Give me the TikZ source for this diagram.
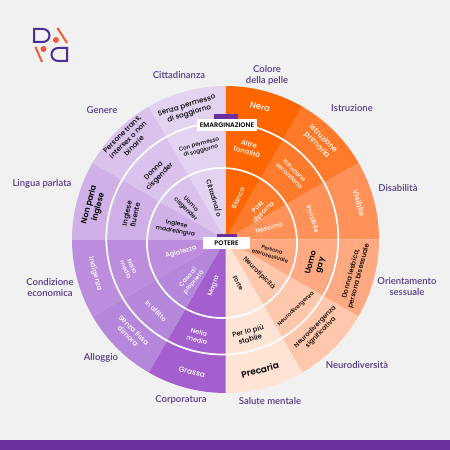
\documentclass[tikz,border=0pt]{standalone}
\usepackage{fontspec}
\setmainfont{Poppins}[UprightFont={* Medium},BoldFont={* SemiBold}]
\newfontfamily\outerfont{Lato}[BoldFont={* Semibold}]
\definecolor{bg}{HTML}{F1F1F1}
\definecolor{labelc}{HTML}{553A8A}
\definecolor{barc}{HTML}{6B2F9E}
\definecolor{logop}{HTML}{4A2F94}
\definecolor{logoo}{HTML}{F4583A}
\definecolor{r1}{HTML}{FF6600}
\definecolor{r2}{HTML}{FF7A2B}
\definecolor{r3}{HTML}{FF9159}
\definecolor{r4}{HTML}{FFA982}
\definecolor{r5}{HTML}{FFC7AC}
\definecolor{r6}{HTML}{FFE3D5}
\definecolor{l1}{HTML}{E3D3F0}
\definecolor{l2}{HTML}{D9C3EC}
\definecolor{l3}{HTML}{CFB1E8}
\definecolor{l4}{HTML}{BB8DDC}
\definecolor{l5}{HTML}{B587DA}
\definecolor{l6}{HTML}{A25FCD}
\newcommand{\wfont}[1]{\pgfmathsetmacro{\wb}{#1*1.2}\fontsize{#1}{\wb}\selectfont}
\tikzset{
  x=1pt,y=1pt,
  dimlabel/.style={font=\outerfont\bfseries\fontsize{9.5}{11}\selectfont,text=labelc,align=center,inner sep=0pt},
  wedgetxt/.style={align=center,inner sep=0pt,font=\wfont{#1}},
  lite/.style={text=white},
  dark/.style={text=black},
  titlebox/.style={fill=white,font=\bfseries\fontsize{6.6}{7}\selectfont,text=black,inner sep=0pt,minimum height=12pt},
  ringline/.style={draw=white,line width=1.7pt},
  logoline/.style={line width=2pt,draw=#1},
}
\newcommand{\wtxt}[7]{\node[wedgetxt=#1,#2,rotate=#5] (#6) at (#3,450-#4) {#7};}
\newcommand{\dimtxt}[4]{\node[dimlabel] (#1) at (#2,450-#3) {#4};}
\begin{document}
\begin{tikzpicture}
\useasboundingbox[fill=bg] (0,0) rectangle (450,450);
\fill[barc] (0,0) rectangle (450,10);
\coordinate (c) at (225.5,210.5);
% sectors
\foreach \k/\col in {0/r1,1/r2,2/r3,3/r4,4/r5,5/r6,6/l6,7/l5,8/l4,9/l3,10/l2,11/l1}{
  \fill[\col] (c) -- ++({90-30*\k}:153.5) arc[start angle={90-30*\k},end angle={60-30*\k},radius=153.5] -- cycle;
}
% rings
\draw[ringline] (222.3,211.5) circle[radius=116];
\draw[ringline] (222,207) circle[radius=75];
% right half, wedge texts
\wtxt{8.5}{lite}{260}{107}{-15}{a1}{Nera}
\wtxt{7.5}{lite}{320}{142}{-45}{a2}{Istruzione\\primaria}
\wtxt{7.5}{lite}{359}{203}{-74}{a3}{Visibile}
\wtxt{6.8}{dark}{355}{275}{75}{a4}{Donna lesbica,\\persona bisessuale}
\wtxt{6.5}{dark}{318}{330}{45}{a5}{Neurodivergenza\\significativa}
\wtxt{9}{dark,font=\wfont{9}\bfseries}{260}{370}{15}{a6}{Precaria}
\wtxt{7}{lite}{248}{148}{-15}{b1}{Altre\\tonalità}
\wtxt{6}{lite}{292}{173}{-45}{b2}{Istruzione\\secondaria}
\wtxt{6.5}{lite}{313}{219}{-73}{b3}{Invisibile}
\wtxt{8}{dark,font=\wfont{8}\bfseries}{316}{264}{75}{b4}{Uomo\\gay}
\wtxt{5.5}{dark}{296}{309}{43}{b5}{Neurodivergenza}
\wtxt{7}{dark}{249}{335}{15}{b6}{Per lo più\\stabile}
\wtxt{6.5}{lite}{238}{198}{65}{c1}{Bianca}
\wtxt{6.5}{lite}{261}{210}{45}{c2}{Post\\diploma}
\wtxt{6.3}{lite}{269}{228}{15}{c3}{Nessuna}
\wtxt{5.3}{dark}{271}{253}{-17}{c4}{Persona\\eterosessuale}
\wtxt{6.5}{dark}{259}{273}{-45}{c5}{Neurotipicità}
\wtxt{6.2}{dark}{238}{283}{-62}{c6}{Forte}
% left half, wedge texts
\wtxt{7.2}{dark}{188}{110}{17}{d1}{Senza permesso\\di soggiorno}
\wtxt{7}{dark}{128}{140}{45}{d2}{Persone trans,\\intersex o non\\binarie}
\wtxt{8}{dark,font=\wfont{8}\bfseries}{94}{206}{75}{d3}{Non parla\\inglese}
\wtxt{7}{lite}{95}{274}{-75}{d4}{Indigenza}
\wtxt{7}{lite}{131}{333}{-45}{d5}{Senza fissa\\dimora}
\wtxt{7.5}{lite}{192}{372}{-15}{d6}{Grassa}
\wtxt{5.6}{dark}{200}{148}{15}{e1}{Con permesso\\di soggiorno}
\wtxt{7}{dark}{157}{174}{45}{e2}{Donna\\cisgender}
\wtxt{7}{dark}{131}{214}{78}{e3}{Inglese\\fluente}
\wtxt{6}{lite}{129}{268}{-65}{e4}{Nella\\media}
\wtxt{6.5}{lite}{156}{311}{-45}{e5}{In affitto}
\wtxt{6.5}{lite}{198}{336}{-15}{e6}{Nella\\media}
\wtxt{6.5}{dark}{214}{198}{-73}{f1}{Cittadina/o}
\wtxt{6}{dark}{188}{207}{-45}{f2}{Uomo\\cisgender}
\wtxt{6}{dark}{176}{228}{-10}{f3}{Inglese\\madrelingua}
\wtxt{6.5}{lite}{181}{252}{16}{f4}{Agiatezza}
\wtxt{6}{lite}{191}{280}{50}{f5}{Casa di\\proprietà}
\wtxt{6.5}{lite}{214}{286}{70}{f6}{Magra}
% title boxes
\fill[barc] (214,450-119) rectangle (238,450-114);
\node[titlebox,minimum width=60pt] (emarg) at (227,450-125.5) {EMARGINAZIONE};
\fill[barc] (217,450-237) rectangle (237,450-234);
\node[titlebox,minimum width=47pt] (potere) at (226.5,450-243) {POTERE};
% outer dimension labels
\dimtxt{g1}{179}{75}{Cittadinanza}
\dimtxt{g2}{267}{75}{Colore\\della pelle}
\dimtxt{g3}{352}{108}{Istruzione}
\dimtxt{g4}{398}{188}{Disabilità}
\dimtxt{g5}{407}{287}{Orientamento\\sessuale}
\dimtxt{g6}{357}{365}{Neurodiversità}
\dimtxt{g7}{270}{401}{Salute mentale}
\dimtxt{g8}{181}{400}{Corporatura}
\dimtxt{g9}{101}{358}{Alloggio}
\dimtxt{g10}{50}{288}{Condizione\\economica}
\dimtxt{g11}{42}{184}{Lingua parlata}
\dimtxt{g12}{102}{110}{Genere}
% logo
\draw[logoline=logop] (34,450-29) -- (34,450-42) -- (43,450-42) arc[start angle=-90,end angle=90,radius=6.5] -- cycle;
\draw[logoline=logop] (67,450-61) -- (67,450-48) -- (58,450-48) arc[start angle=90,end angle=270,radius=6.5] -- cycle;
\draw[logoline=logoo] (57.5,450-28) -- (67,450-43);
\draw[logoline=logoo] (35.5,450-47) -- (42,450-62);
\fill[logoo] (56,450-40) circle[radius=3];
\fill[logoo] (43.5,450-49) circle[radius=3];
\end{tikzpicture}
\end{document}
